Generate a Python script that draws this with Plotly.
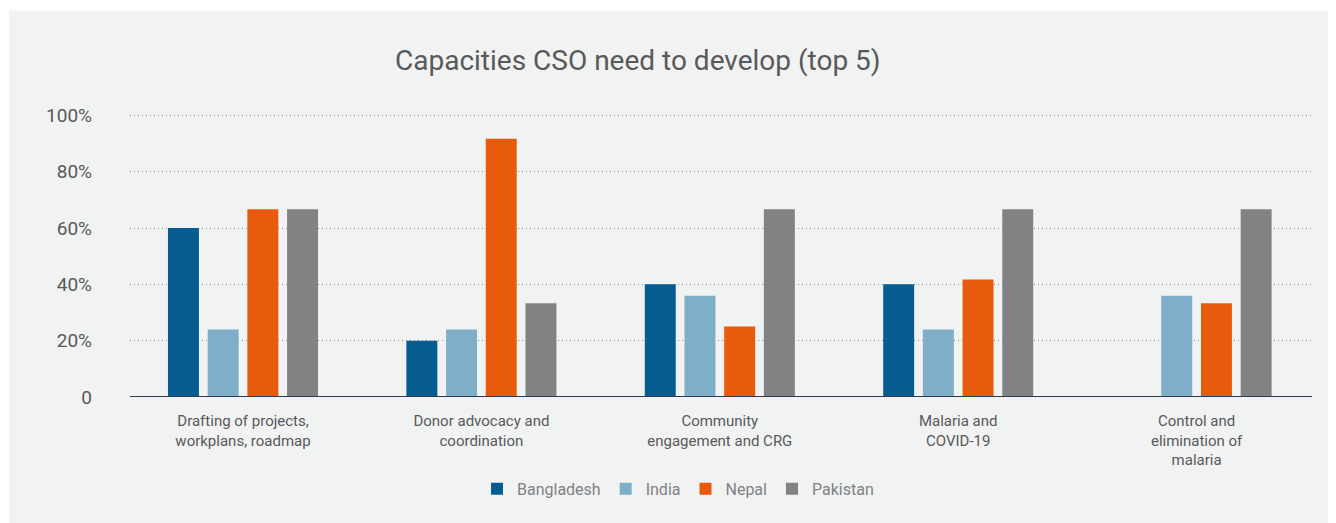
import plotly.graph_objects as go

categories = [
    "Drafting of projects,<br>workplans, roadmap",
    "Donor advocacy and<br>coordination",
    "Community<br>engagement and CRG",
    "Malaria and<br>COVID-19",
    "Control and<br>elimination of<br>malaria",
]
bangladesh = [60, 20, 40, 40, None]
india = [24, 24, 36, 24, 36]
nepal = [66.7, 91.7, 25, 41.7, 33.3]
pakistan = [66.7, 33.3, 66.7, 66.7, 66.7]

series = [
    ("Bangladesh", bangladesh, "#065c91"),
    ("India", india, "#7faec8"),
    ("Nepal", nepal, "#e95b0c"),
    ("Pakistan", pakistan, "#818284"),
]
y_ticks = [0, 20, 40, 60, 80, 100]
y_ticktext = ["0", "20%", "40%", "60%", "80%", "100%"]
title_text = "Capacities CSO need to develop (top 5)"

OFF = 8  # page body margin
W, H = 1336 - OFF, 523 - OFF
Y_TOP = 100.5
# target pixel positions (window coords)
plot_left, plot_right = 130, 1312
y0_px, y100_px = 397, 115
px_per_unit = (y0_px - y100_px) / 100.0
plot_top = y0_px - Y_TOP * px_per_unit

L = plot_left - OFF
R = W - (plot_right - OFF)
T = plot_top - OFF
B = H - (y0_px - OFF)
pw, ph = W - L - R, H - T - B

def px_x(p):
    return (p - OFF - L) / pw

def px_y(p):
    return (H - B - (p - OFF)) / ph

fig = go.Figure()
for name, vals, color in series:
    fig.add_trace(go.Bar(
        name=name, x=list(range(len(categories))), y=vals,
        marker=dict(color=color, line=dict(width=0)),
    ))

FONT = "Roboto"
fig.update_layout(
    width=W, height=H,
    margin=dict(l=L, r=R, t=T, b=B, autoexpand=False),
    paper_bgcolor="white",
    plot_bgcolor="rgba(0,0,0,0)",
    barmode="group",
    bargap=0.334,
    bargroupgap=0.22,
    font=dict(family=FONT, color="#58595b"),
    showlegend=True,
    legend=dict(
        orientation="h", xanchor="center", yanchor="middle",
        x=px_x(678), y=px_y(489),
        font=dict(size=16, color="#808285", family=FONT),
        bgcolor="rgba(0,0,0,0)",
        traceorder="normal",
    ),
    shapes=[
        dict(type="rect", xref="paper", yref="paper", layer="below",
             x0=px_x(9), x1=px_x(1336 + 20), y0=px_y(523 + 20), y1=px_y(10),
             fillcolor="#f1f2f2", line=dict(width=0)),
        dict(type="line", xref="paper", yref="y", layer="above",
             x0=0, x1=1, y0=0, y1=0, line=dict(color="#2e3a4c", width=2)),
    ],
    annotations=[
        dict(text=title_text, xref="paper", yref="paper",
             x=px_x(637.5), y=px_y(60), xanchor="center", yanchor="middle",
             showarrow=False, font=dict(size=28, color="#58595b", family=FONT)),
    ],
)
fig.update_xaxes(
    range=[-0.474, 4.484],
    tickvals=list(range(len(categories))), ticktext=categories,
    tickfont=dict(size=15, color="#58595b", family=FONT),
    showgrid=False, zeroline=False, showline=False, ticks="",
    ticklabelstandoff=13,
)
fig.update_yaxes(
    range=[0, Y_TOP],
    tickvals=y_ticks, ticktext=y_ticktext,
    tickfont=dict(size=19, color="#58595b", family=FONT),
    showgrid=True, gridcolor="#8a8c8e", griddash="1px,3px", gridwidth=1,
    zeroline=False, showline=False, ticks="",
    ticklabelstandoff=37,
)
fig.write_html("out.html")
